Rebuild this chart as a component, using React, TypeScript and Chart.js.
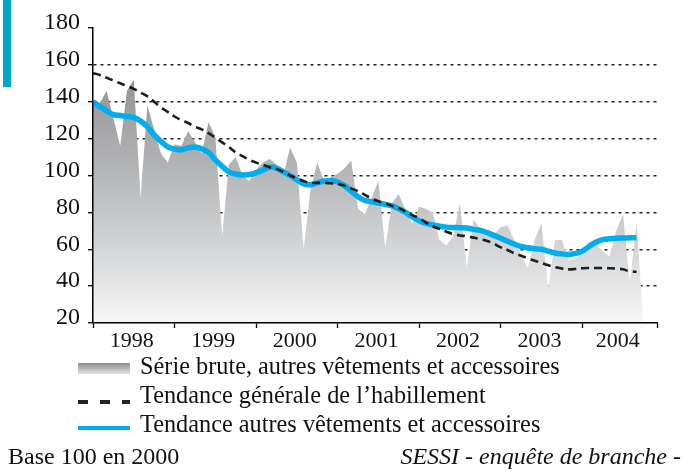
import React, { useEffect, useRef } from 'react';
import { Chart, registerables } from 'chart.js';

Chart.register(...registerables);

// ---- data ----
const YEARS = ['1998', '1999', '2000', '2001', '2002', '2003', '2004'];
const YEAR_BOUNDS = [0, 12, 24, 36, 48, 60, 72, 83];
const Y_MIN = 20;
const Y_MAX = 180;
const Y_STEP = 20;

// Série brute (monthly, Jan 1998 ...)
const RAW = [
  140, 139, 146, 131, 116, 146, 152, 88, 138, 125, 112, 107,
  117, 116, 124, 118, 112, 129, 121, 67, 106, 110, 100, 97,
  103, 107, 109, 106, 100, 115, 107, 60, 92, 107, 97, 99,
  101, 104, 108, 82, 79, 88, 97, 61, 85, 90, 81, 74,
  83, 82, 80, 65, 62, 67, 85, 50, 76, 71, 68, 68,
  72, 73, 65, 57, 50, 65, 74, 39, 65, 65, 54, 55,
  60, 64, 63, 59, 56, 70, 79, 42, 74, 20,
];

// Tendance générale de l'habillement
const TREND_GENERAL = [
  155.5, 154.5, 153, 151.5, 150, 148.5, 147, 145, 143, 140, 137, 134.5,
  132, 130, 128.5, 126.5, 125, 123, 120.5, 118, 115.5, 112.5, 110.5, 108.5,
  107, 105.7, 104.5, 103.5, 102, 100, 98.5, 97, 96, 96, 96, 95.8,
  95.5, 94.5, 93, 91.5, 89.5, 87.5, 86, 85, 83.5, 82.3, 80.5, 78.5,
  76.8, 74.5, 72.5, 71, 69.5, 68.3, 67.5, 67, 66.3, 65.5, 64.5, 63,
  61, 59.6, 57.8, 56.5, 55, 53.8, 52.5, 51.3, 50.3, 49.6, 49.1, 49.3,
  49.7, 49.8, 49.8, 49.8, 49.7, 49.5, 49.1, 48, 47.8,
];

// Tendance autres vêtements et accessoires
const TREND_OTHER = [
  140, 137.5, 135, 133, 132.5, 132, 131.5, 129.5, 126.5, 122, 118.5, 115.5,
  114.3, 114, 115, 115.5, 114.5, 112.5, 108.5, 105, 102, 100.8, 100.3, 100.5,
  101.5, 103, 104.5, 104, 102, 100, 97.6, 95.5, 95, 96, 97, 97.3,
  96.5, 94.5, 91.5, 88.5, 86.5, 85.8, 85, 84.3, 83.5, 82, 80, 77.5,
  75.5, 74, 73.2, 72.5, 72, 71.8, 71.7, 71.5, 70.8, 70.2, 69, 67.5,
  66, 64.3, 62.8, 61.5, 60.8, 60.3, 60, 59, 58, 57.5, 57.2, 57.8,
  59, 61.5, 63.8, 65.2, 65.7, 66, 66.1, 66.2, 66.3,
];

const LEGEND_LABELS = [
  'Série brute, autres vêtements et accessoires',
  'Tendance générale de l’habillement',
  'Tendance autres vêtements et accessoires',
];
const NOTE_LEFT = 'Base 100 en 2000';
const NOTE_RIGHT = 'SESSI - enquête de branche -';

// ---- styles ----
const SERIF = '"Liberation Serif", "Times New Roman", Times, serif';
const CYAN = '#00aeef';
const TEAL_BAR = '#00a5cb';
const INK = '#111111';

const toPoints = (arr: number[]) => arr.map((v, i) => ({ x: i, y: v }));
const YEAR_CENTERS = YEAR_BOUNDS.slice(0, -1).map((b, i) => (b + YEAR_BOUNDS[i + 1]) / 2);

const decorPlugin = {
  id: 'decor',
  afterDraw(chart: any) {
    const ctx: CanvasRenderingContext2D = chart.ctx;
    ctx.save();
    // teal bar at top-left
    ctx.fillStyle = TEAL_BAR;
    ctx.fillRect(3, 0, 8, 87);

    // legend swatches
    const g = ctx.createLinearGradient(0, 363, 0, 374);
    g.addColorStop(0, '#8a8a8c');
    g.addColorStop(1, '#e2e2e2');
    ctx.fillStyle = g;
    ctx.fillRect(78, 363, 52, 11);

    ctx.strokeStyle = '#222';
    ctx.lineWidth = 4;
    ctx.setLineDash([10, 12]);
    ctx.beginPath();
    ctx.moveTo(78, 402);
    ctx.lineTo(130, 402);
    ctx.stroke();
    ctx.setLineDash([]);

    ctx.strokeStyle = CYAN;
    ctx.lineWidth = 4;
    ctx.beginPath();
    ctx.moveTo(78, 428);
    ctx.lineTo(130, 428);
    ctx.stroke();

    // legend texts
    ctx.fillStyle = INK;
    ctx.textBaseline = 'alphabetic';
    ctx.textAlign = 'left';
    ctx.font = `24.3px ${SERIF}`;
    const rows = [374, 403, 432];
    LEGEND_LABELS.forEach((t, i) => ctx.fillText(t, 140, rows[i]));

    // footer
    ctx.font = `24px ${SERIF}`;
    ctx.fillText(NOTE_LEFT, 8, 464);
    ctx.font = `italic 24px ${SERIF}`;
    ctx.textAlign = 'right';
    ctx.fillText(NOTE_RIGHT, 681, 464);
    ctx.restore();
  },
};

export default function App() {
  const ref = useRef<HTMLCanvasElement | null>(null);

  useEffect(() => {
    if (!ref.current) return;
    const areaFill = (c: any) => {
      const area = c.chart.chartArea;
      if (!area) return '#c0c0c0';
      const g = c.chart.ctx.createLinearGradient(0, area.top + 40, 0, area.bottom);
      g.addColorStop(0, '#909092');
      g.addColorStop(0.4, '#b4b5b7');
      g.addColorStop(0.75, '#d9dadb');
      g.addColorStop(1, '#f7f7f7');
      return g;
    };

    const chart = new Chart(ref.current, {
      type: 'line',
      data: {
        datasets: [
          {
            label: LEGEND_LABELS[1],
            data: toPoints(TREND_GENERAL),
            borderColor: '#1e1e1e',
            borderWidth: 2.6,
            borderDash: [8, 5],
            pointRadius: 0,
            tension: 0.4,
            fill: false,
            order: 1,
          },
          {
            label: LEGEND_LABELS[2],
            data: toPoints(TREND_OTHER),
            borderColor: CYAN,
            borderWidth: 5.5,
            pointRadius: 0,
            tension: 0.4,
            fill: false,
            order: 2,
          },
          {
            label: LEGEND_LABELS[0],
            data: toPoints(RAW),
            borderWidth: 0,
            borderColor: 'rgba(0,0,0,0)',
            backgroundColor: areaFill,
            pointRadius: 0,
            tension: 0,
            fill: 'start',
            order: 3,
          },
        ],
      },
      options: {
        animation: false,
        responsive: false,
        devicePixelRatio: 1,
        layout: { padding: { left: 0, top: 28, right: 29, bottom: 0 } },
        plugins: { legend: { display: false }, tooltip: { enabled: false } },
        scales: {
          x: {
            type: 'linear',
            position: 'bottom',
            min: YEAR_BOUNDS[0],
            max: YEAR_BOUNDS[YEAR_BOUNDS.length - 1],
            afterBuildTicks: (s: any) => {
              s.ticks = YEAR_BOUNDS.map((v) => ({ value: v }));
            },
            afterFit: (s: any) => {
              s.height = 5;
            },
            ticks: { display: false },
            grid: {
              drawOnChartArea: false,
              drawTicks: true,
              tickLength: 5,
              tickColor: '#000',
              tickWidth: 1.3,
              color: '#000',
            },
            border: { display: true, color: '#000', width: 1.5, z: 1 },
          },
          y: {
            type: 'linear',
            min: Y_MIN,
            max: Y_MAX,
            afterBuildTicks: (s: any) => {
              const t: { value: number }[] = [];
              for (let v = Y_MIN; v <= Y_MAX; v += Y_STEP) t.push({ value: v });
              s.ticks = t;
            },
            afterFit: (s: any) => {
              s.width = 93;
            },
            ticks: {
              color: INK,
              font: { family: SERIF, size: 24 },
              padding: 8,
              labelOffset: -5,
              callback: (v: any) => String(v),
            },
            grid: {
              color: (c: any) =>
                c.tick && (c.tick.value === Y_MIN || c.tick.value === Y_MAX) ? 'rgba(0,0,0,0)' : '#222',
              lineWidth: 1.4,
              tickLength: 5,
              tickColor: '#000',
              tickWidth: 1.3,
            },
            border: { display: true, color: '#000', width: 1.5, dash: [3, 4], z: 1 },
          },
          x2: {
            type: 'linear',
            position: 'bottom',
            min: YEAR_BOUNDS[0],
            max: YEAR_BOUNDS[YEAR_BOUNDS.length - 1],
            afterBuildTicks: (s: any) => {
              s.ticks = YEAR_CENTERS.map((v) => ({ value: v }));
            },
            afterFit: (s: any) => {
              s.height = 144;
            },
            ticks: {
              autoSkip: false,
              maxRotation: 0,
              color: INK,
              font: { family: SERIF, size: 22 },
              padding: 0,
              labelOffset: -2,
              callback: (_v: any, i: number) => YEARS[i],
            },
            grid: { display: false, drawTicks: false },
            border: { display: false },
          },
        },
      },
      plugins: [decorPlugin],
    });
    return () => chart.destroy();
  }, []);

  return (
    <div style={{ position: 'absolute', left: 0, top: 0, width: 686, height: 472, background: '#fff' }}>
      <canvas ref={ref} width={686} height={472} style={{ display: 'block', width: 686, height: 472 }} />
    </div>
  );
}
